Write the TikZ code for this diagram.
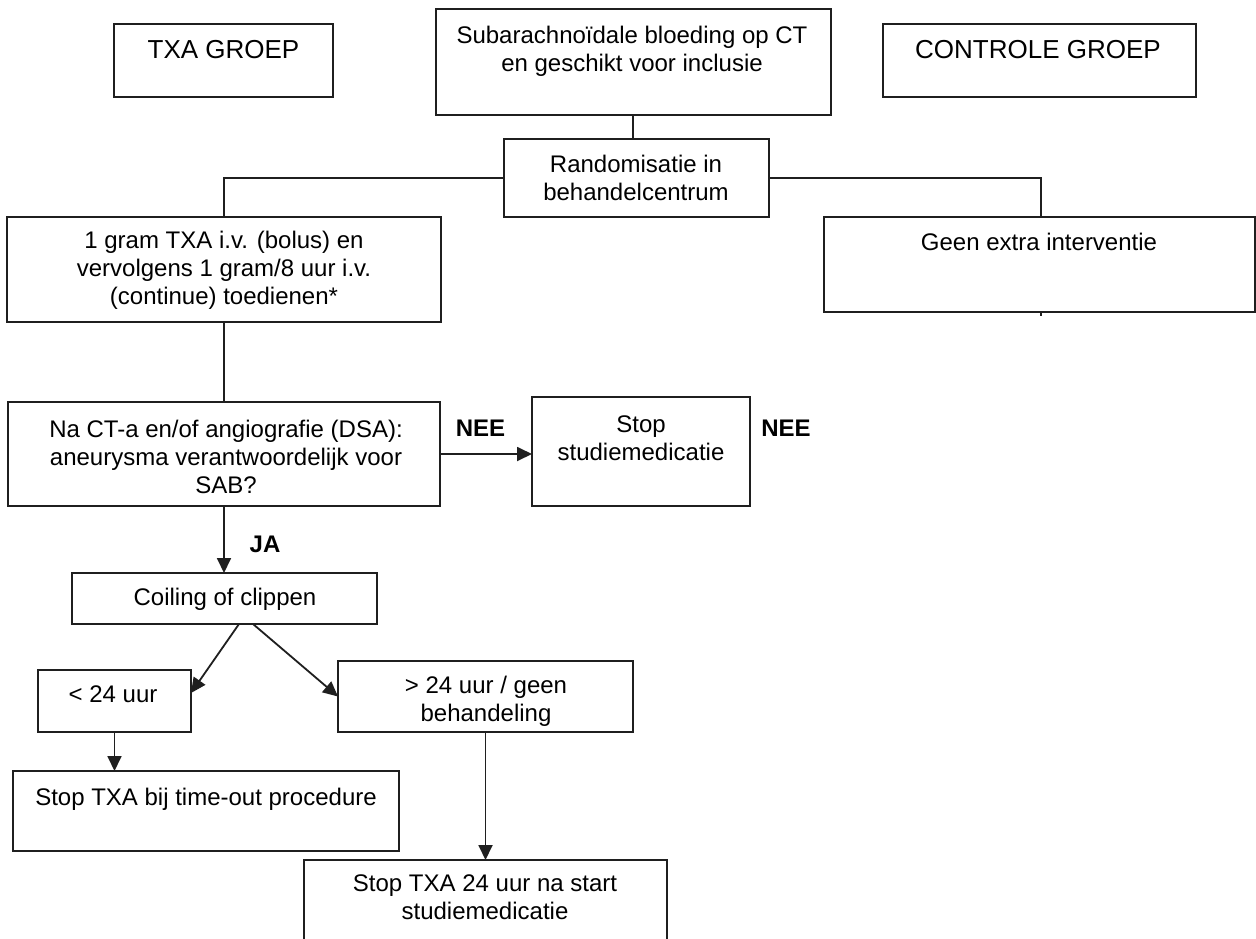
\documentclass[tikz,border=0pt]{standalone}
\usepackage{fontspec}
\setmainfont{Liberation Sans}
\usetikzlibrary{arrows.meta}
\begin{document}
\begin{tikzpicture}[x=1pt,y=-1pt,
  box/.style={draw=black!88, line width=1.8pt, inner sep=0pt, outer sep=0pt},
  txt/.style={inner sep=0pt, outer sep=0pt, align=center, anchor=north, font=\fontsize{24}{28}\selectfont},
  ttl/.style={txt, font=\fontsize{26}{30}\selectfont},
  lbl/.style={txt, font=\fontsize{24}{28}\selectfont\bfseries},
  conn/.style={line width=1.8pt, draw=black!88},
  arr/.style={conn, -{Triangle[length=15pt,width=14pt]}}]
\useasboundingbox (0,0) rectangle (1256,938);
\clip (0,0) rectangle (1256,938);
\fill[white] (0,0) rectangle (1256,938);
% boxes
\node[box, minimum width=219pt, minimum height=73pt] (txa) at (223.5,60.5) {};
\node[box, minimum width=395pt, minimum height=106pt] (sab) at (633.5,62) {};
\node[box, minimum width=313pt, minimum height=73pt] (ctrl) at (1039.5,60.5) {};
\node[box, minimum width=265pt, minimum height=78pt] (rand) at (636.5,178) {};
\node[box, minimum width=434pt, minimum height=105pt] (bolus) at (224,269.5) {};
\node[box, minimum width=431pt, minimum height=95pt] (geen) at (1039.5,264.5) {};
\node[box, minimum width=432pt, minimum height=104pt] (nact) at (224,454) {};
\node[box, minimum width=218pt, minimum height=109pt] (stopm) at (641,451.5) {};
\node[box, minimum width=305pt, minimum height=51pt] (coil) at (224.5,598.5) {};
\node[box, minimum width=153pt, minimum height=62pt] (lt24) at (114.5,701) {};
\node[box, minimum width=295pt, minimum height=71pt] (gt24) at (485.5,696.5) {};
\node[box, minimum width=386pt, minimum height=80pt] (stoptxa) at (206,811) {};
\node[box, minimum width=363pt, minimum height=85pt] (stop24) at (485.5,902.5) {};
% texts
\node[ttl] (txaT) at (223.5,40) {TXA GROEP};
\node[ttl] (ctrlT) at (1038,40) {CONTROLE GROEP};
\node[txt] (sabT) at (632,26.2) {Subarachnoïdale bloeding op CT\\en geschikt voor inclusie};
\node[txt] (randT) at (636,154.7) {Randomisatie in\\behandelcentrum};
\node[txt] (bolusT) at (224,230.7) {1 gram TXA i.v. (bolus) en\\vervolgens 1 gram/8 uur i.v.\\(continue) toedienen*};
\node[txt] (geenT) at (1039,232.7) {Geen extra interventie};
\node[txt] (nactT) at (226,419.7) {Na CT-a en/of angiografie (DSA):\\aneurysma verantwoordelijk voor\\SAB?};
\node[txt] (stopmT) at (641,415.7) {Stop\\studiemedicatie};
\node[lbl] (nee1) at (480.5,419.8) {NEE};
\node[lbl] (nee2) at (786,419.8) {NEE};
\node[lbl] (ja) at (265,535.8) {JA};
\node[txt] (coilT) at (225,587.7) {Coiling of clippen};
\node[txt] (lt24T) at (113,685.7) {< 24 uur};
\node[txt] (gt24T) at (486,675.7) {> 24 uur / geen\\behandeling};
\node[txt] (stoptxaT) at (206,787.7) {Stop TXA bij time-out procedure};
\node[txt] (stop24T) at (485,874.7) {Stop TXA 24 uur na start\\studiemedicatie};
% connectors
\coordinate (geenstub) at (1041,316);
\draw[conn] (sab.south -| 633,0) -- (rand.north -| 633,0);
\draw[conn] (rand.west) -- (rand.west -| bolus.north) -- (bolus.north);
\draw[conn] (rand.east) -- (rand.east -| geenstub) -- (geen.north -| geenstub);
\draw[conn] (geen.south -| geenstub) -- (geenstub);
\draw[conn] (bolus.south) -- (nact.north);
\draw[arr] (nact.east) -- (nact.east -| stopm.west);
\draw[arr] (nact.south) -- (nact.south |- coil.north);
\draw[arr] ([xshift=14.5pt]coil.south) -- ([yshift=8pt]lt24.east);
\draw[arr] ([xshift=28.5pt]coil.south) -- (gt24.west);
\draw[arr] (lt24.south) -- (lt24.south |- stoptxa.north);
\draw[arr] (gt24.south) -- (stop24.north);
\end{tikzpicture}
\end{document}
